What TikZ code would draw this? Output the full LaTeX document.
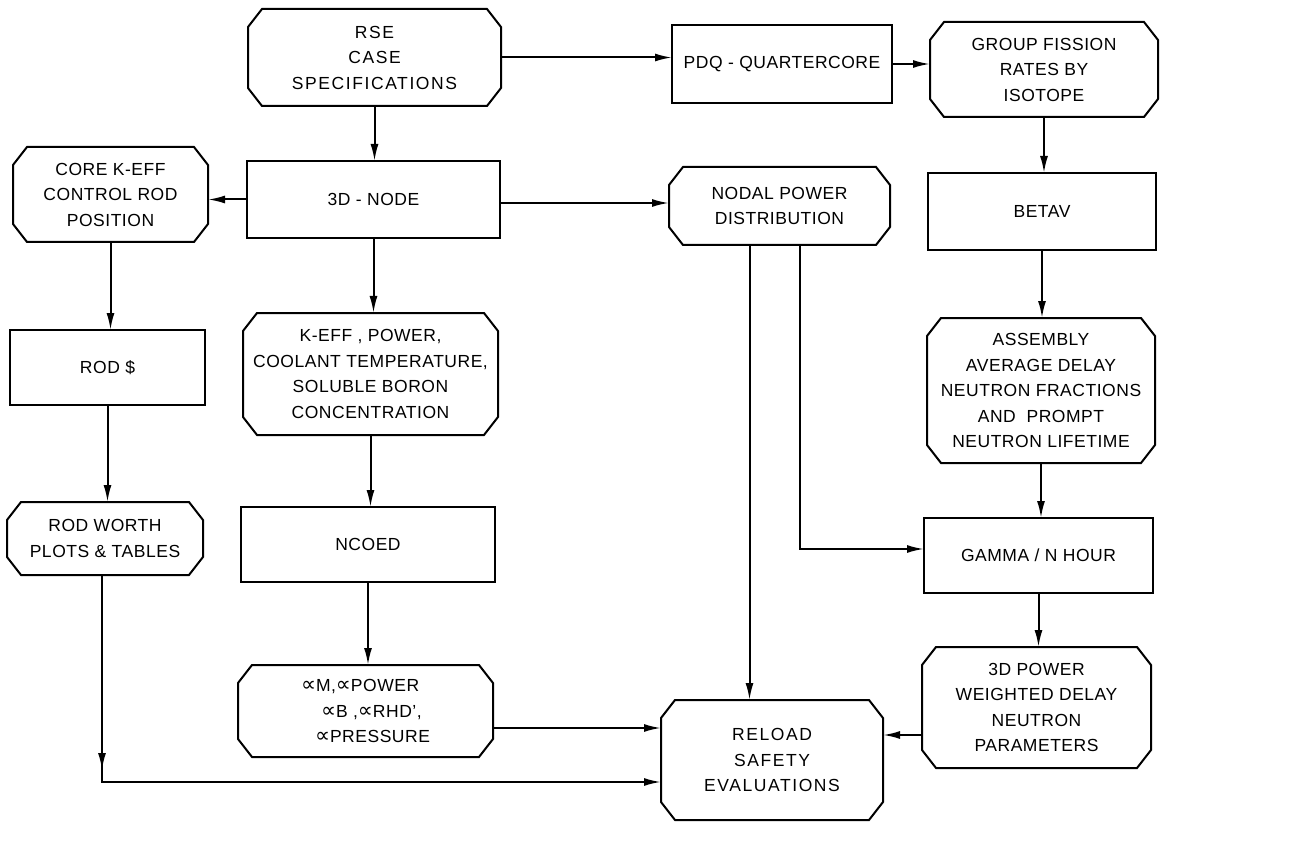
\documentclass[tikz,border=0pt]{standalone}
\usepackage{fontspec}
\setmainfont{Liberation Sans}[LetterSpace=3]
\newfontfamily\widef{Liberation Sans}[LetterSpace=9]
\newfontfamily\symf{DejaVu Sans}
\usetikzlibrary{arrows.meta,decorations.markings}
\newcommand{\pp}{{\symf\fontsize{21}{25.5}\selectfont ∝}}
\newcommand{\octo}[1]{\draw[line] ([xshift=14pt]#1.north west) -- ([xshift=-14pt]#1.north east) -- ([yshift=-18pt]#1.north east) -- ([yshift=18pt]#1.south east) -- ([xshift=-14pt]#1.south east) -- ([xshift=14pt]#1.south west) -- ([yshift=18pt]#1.south west) -- ([yshift=-18pt]#1.north west) -- cycle;}
\begin{document}
\begin{tikzpicture}[x=1pt,y=-1pt,
  every node/.style={font=\fontsize{17.5}{25.5}\selectfont, align=center, inner sep=0pt, outer sep=0pt},
  box/.style={draw, line width=2pt, rectangle},
  oct/.style={rectangle},
  line/.style={line width=2pt, line join=miter},
  tip/.style={-{Latex[length=17pt,width=8pt]}},
  arr/.style={line, tip},
]
\fill[white] (0,0) rectangle (1306,842);
\useasboundingbox (0,0) rectangle (1306,842);

\node[oct, minimum width=253pt, minimum height=97pt] (rse) at (374.5,57.5) {\widef RSE\\\widef CASE\\\widef SPECIFICATIONS};
\node[box, minimum width=220pt, minimum height=78pt] (pdq) at (782,64) {PDQ - QUARTERCORE};
\node[oct, minimum width=228pt, minimum height=95pt] (grp) at (1044,69.5) {GROUP FISSION\\RATES BY\\ISOTOPE};
\node[oct, minimum width=195pt, minimum height=95pt] (core) at (110.5,194.5) {CORE K-EFF\\CONTROL ROD\\POSITION};
\node[box, minimum width=253pt, minimum height=77pt] (n3d) at (373.5,199.5) {3D - NODE};
\node[oct, minimum width=221pt, minimum height=78pt] (nodal) at (779.5,206) {NODAL POWER\\DISTRIBUTION};
\node[box, minimum width=228pt, minimum height=77pt] (betav) at (1042,211.5) {BETAV};
\node[oct, minimum width=255pt, minimum height=122pt] (keff) at (370.5,374) {K-EFF , POWER,\\COOLANT TEMPERATURE,\\SOLUBLE BORON\\CONCENTRATION};
\node[box, minimum width=195pt, minimum height=75pt] (rod) at (107.5,367.5) {ROD \$};
\node[oct, minimum width=228pt, minimum height=145pt] (asm) at (1041,390.5) {ASSEMBLY\\AVERAGE DELAY\\NEUTRON FRACTIONS\\AND\ \ PROMPT\\NEUTRON LIFETIME};
\node[oct, minimum width=196pt, minimum height=73pt] (rw) at (105,538.5) {ROD WORTH\\PLOTS \& TABLES};
\node[box, minimum width=254pt, minimum height=75pt] (ncoed) at (368,544.5) {NCOED};
\node[box, minimum width=229pt, minimum height=75pt] (gamma) at (1038.5,555.5) {GAMMA / N HOUR};
\node[oct, minimum width=255pt, minimum height=92pt, align=left] (alpha) at (365.5,711) {\pp M,\pp POWER\\\hspace*{20pt}\pp B ,\pp RHD',\hspace*{15pt}\\\hspace*{14pt}\pp PRESSURE};
\node[oct, minimum width=229pt, minimum height=121pt] (p3d) at (1036.5,707.5) {3D POWER\\WEIGHTED DELAY\\NEUTRON\\PARAMETERS};
\node[oct, minimum width=222pt, minimum height=120pt] (reload) at (772,760) {\widef RELOAD\\\widef SAFETY\\\widef EVALUATIONS};

\foreach \n in {rse,grp,core,nodal,keff,asm,rw,alpha,p3d,reload} {\octo{\n}}

\coordinate (rwc) at (102,782);

\draw[arr] (rse.south) -- (rse.south |- n3d.north);
\draw[arr] (rse.east) -- (rse.east -| pdq.west);
\draw[arr] (pdq.east) -- (pdq.east -| grp.west);
\draw[arr] (grp.south) -- (grp.south |- betav.north);
\draw[arr] (n3d.west) -- (n3d.west -| core.east);
\draw[arr] ([yshift=-3.5pt]n3d.east) -- ([yshift=-3.5pt]n3d.east -| nodal.west);
\draw[arr] (n3d.south) -- (n3d.south |- keff.north);
\draw[arr] (core.south) -- (core.south |- rod.north);
\draw[arr] (rod.south) -- (rod.south |- rw.north);
\draw[arr] (keff.south) -- (keff.south |- ncoed.north);
\draw[arr] (ncoed.south) -- (ncoed.south |- alpha.north);
\draw[arr] (betav.south) -- (betav.south |- asm.north);
\draw[arr] (asm.south) -- (asm.south |- gamma.north);
\draw[arr] (gamma.south) -- (gamma.south |- p3d.north);
\draw[arr] ([yshift=-17pt]alpha.east) -- ([yshift=-17pt]alpha.east -| reload.west);
\draw[arr] ([yshift=-27.5pt]p3d.west) -- ([yshift=-27.5pt]p3d.west -| reload.east);
\draw[arr] ([xshift=-30pt]nodal.south) -- ([xshift=-30pt]nodal.south |- reload.north);
\draw[arr] ([xshift=20.5pt]nodal.south) |- ([yshift=6.5pt]gamma.west);
\draw[arr, postaction={decorate}, decoration={markings, mark=at position 195pt with {\arrow{Latex[length=17pt,width=8pt]}}}]
  (rw.south -| rwc) -- (rwc) -- (rwc -| reload.west);
\end{tikzpicture}
\end{document}
